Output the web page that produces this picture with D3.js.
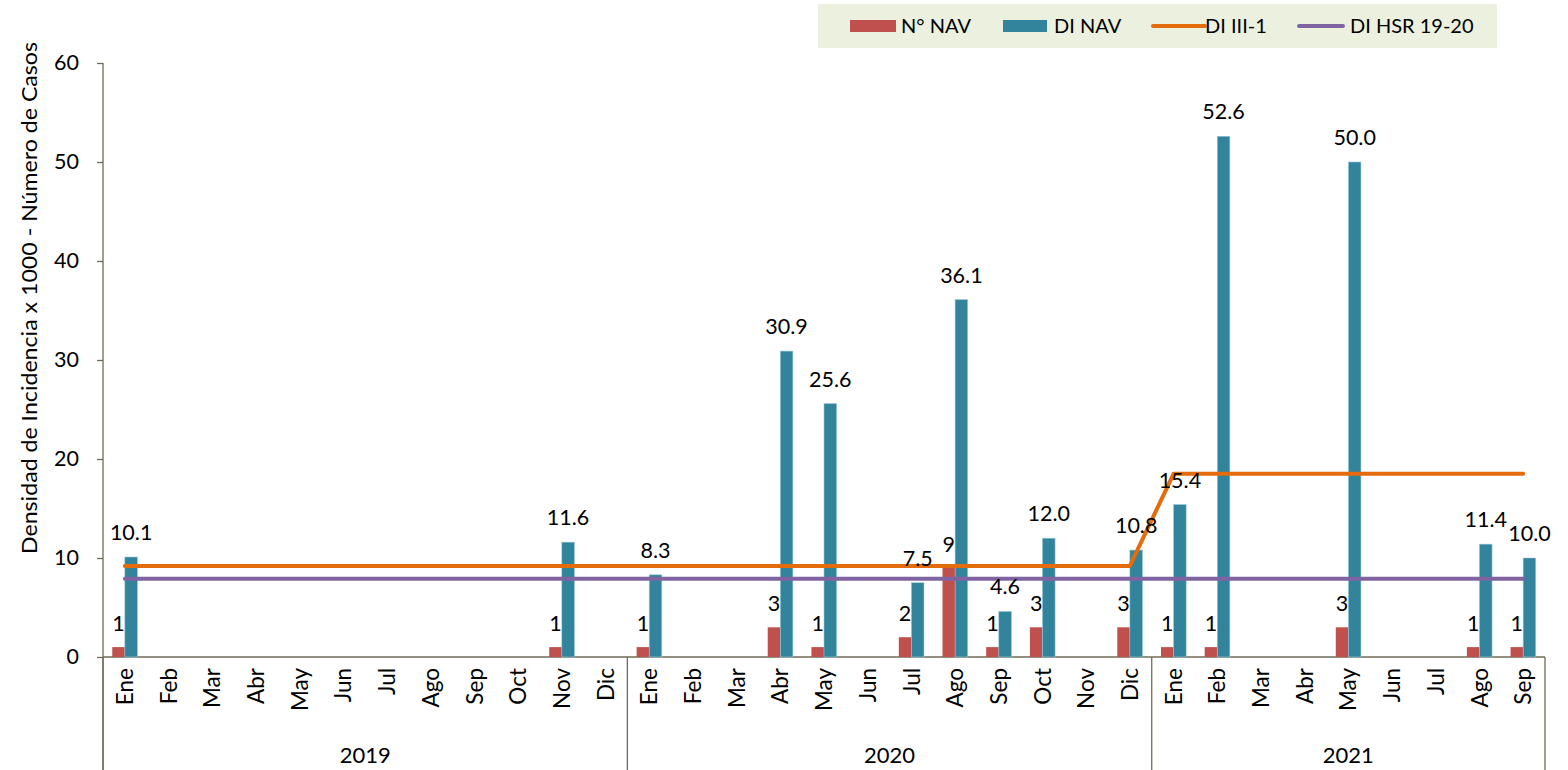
<!DOCTYPE html>
<html lang="es">
<head>
<meta charset="utf-8">
<title>Densidad de Incidencia NAV</title>
<script src="https://cdn.jsdelivr.net/npm/d3@7/dist/d3.min.js"></script>
<style>
  html, body { margin: 0; padding: 0; background: #ffffff; }
  svg { display: block; font-family: Lato, "Noto Sans", sans-serif; }
</style>
</head>
<body>
<svg id="chart" width="1568" height="770"></svg>
<script>
// Month and year labels for the category axis
const monthLabels = ["Ene","Feb","Mar","Abr","May","Jun","Jul","Ago","Sep","Oct","Nov","Dic",
                     "Ene","Feb","Mar","Abr","May","Jun","Jul","Ago","Sep","Oct","Nov","Dic",
                     "Ene","Feb","Mar","Abr","May","Jun","Jul","Ago","Sep"];
const yearLabels = ["2019", "2020", "2021"];
const monthsPerYear = [12, 12, 9];

// N° NAV: number of cases per month (null = no cases)
const casesNAV = [1, null, null, null, null, null, null, null, null, null, 1, null,
                  1, null, null, 3, 1, null, 2, 9, 1, 3, null, 3,
                  1, 1, null, null, 3, null, null, 1, 1];

// DI NAV: incidence density x 1000
const diNAV = [10.1, null, null, null, null, null, null, null, null, null, 11.6, null,
               8.3, null, null, 30.9, 25.6, null, 7.5, 36.1, 4.6, 12.0, null, 10.8,
               15.4, 52.6, null, null, 50.0, null, null, 11.4, 10.0];

// DI III-1 reference line
const diIII1 = [9.2, 9.2, 9.2, 9.2, 9.2, 9.2, 9.2, 9.2, 9.2, 9.2, 9.2, 9.2,
                9.2, 9.2, 9.2, 9.2, 9.2, 9.2, 9.2, 9.2, 9.2, 9.2, 9.2, 9.2,
                18.5, 18.5, 18.5, 18.5, 18.5, 18.5, 18.5, 18.5, 18.5];

// DI HSR 19-20 reference line
const diHSR = [7.9, 7.9, 7.9, 7.9, 7.9, 7.9, 7.9, 7.9, 7.9, 7.9, 7.9, 7.9,
               7.9, 7.9, 7.9, 7.9, 7.9, 7.9, 7.9, 7.9, 7.9, 7.9, 7.9, 7.9,
               7.9, 7.9, 7.9, 7.9, 7.9, 7.9, 7.9, 7.9, 7.9];

const yTicks = [0, 10, 20, 30, 40, 50, 60];

const colors = {
  cases: "#C0504D",
  di: "#31849B",
  iii: "#E46C0A",
  hsr: "#8064A2",
  axis: "#6f6b58",
  legendBg: "#EBF1DE"
};

const svg = d3.select("#chart");
const plot = { left: 103, right: 1545, top: 63, bottom: 657 };

const idx = d3.range(monthLabels.length);
const x = d3.scaleBand().domain(idx).range([plot.left, plot.right]).padding(0);
const y = d3.scaleLinear().domain([0, 60]).range([plot.bottom, plot.top]);
const barW = x.bandwidth() * 0.288;
const cx = i => x(i) + x.bandwidth() / 2;

// Y axis
const yAxis = svg.append("g")
  .attr("transform", `translate(${plot.left},0)`)
  .call(d3.axisLeft(y).tickValues(yTicks).tickSize(6).tickSizeOuter(0).tickPadding(18));
yAxis.select(".domain").remove();
yAxis.selectAll("line").attr("stroke", colors.axis).attr("stroke-width", 1.3);
yAxis.selectAll("text").attr("font-size", 21.5).attr("fill", "#000")
  .attr("font-family", "Lato, 'Noto Sans', sans-serif");

// Axis lines: vertical axis runs down through the category area
svg.append("line")
  .attr("x1", plot.left).attr("x2", plot.left)
  .attr("y1", plot.top).attr("y2", 770)
  .attr("stroke", colors.axis).attr("stroke-width", 1.3);
svg.append("line")
  .attr("x1", plot.left).attr("x2", plot.right)
  .attr("y1", plot.bottom).attr("y2", plot.bottom)
  .attr("stroke", colors.axis).attr("stroke-width", 1.3);

// Year group separators
let start = 0;
const groups = monthsPerYear.map((n, g) => {
  const s = start; start += n;
  return { year: yearLabels[g], first: s, last: s + n - 1 };
});
const sepX = groups.map(g => x(g.first)).concat([x(groups[groups.length - 1].last) + x.bandwidth()]);
svg.append("g").selectAll("line").data(sepX).join("line")
  .attr("x1", d => d).attr("x2", d => d)
  .attr("y1", plot.bottom).attr("y2", 770)
  .attr("stroke", colors.axis).attr("stroke-width", 1.3);

// Month labels
const xAxis = svg.append("g")
  .attr("transform", `translate(0,${plot.bottom})`)
  .call(d3.axisBottom(x).tickSize(0).tickFormat(i => monthLabels[i]));
xAxis.select(".domain").remove();
xAxis.selectAll("text")
  .attr("transform", "rotate(-90)")
  .attr("x", -11).attr("y", 0).attr("dy", "0.36em")
  .attr("text-anchor", "end")
  .attr("font-size", 22.5).attr("fill", "#000")
  .attr("font-family", "Lato, 'Noto Sans', sans-serif");

// Year labels
svg.append("g").selectAll("text").data(groups).join("text")
  .attr("x", g => (x(g.first) + x(g.last) + x.bandwidth()) / 2)
  .attr("y", 755).attr("dy", "0.35em")
  .attr("text-anchor", "middle").attr("font-size", 22)
  .text(g => g.year);

// Bars
const barData = idx.map(i => ({ i, cases: casesNAV[i], di: diNAV[i] }));
svg.append("g").selectAll("rect").data(barData.filter(d => d.cases != null)).join("rect")
  .attr("x", d => cx(d.i) - barW).attr("width", barW)
  .attr("y", d => y(d.cases)).attr("height", d => y(0) - y(d.cases))
  .attr("fill", colors.cases);
svg.append("g").selectAll("rect").data(barData.filter(d => d.di != null)).join("rect")
  .attr("x", d => cx(d.i)).attr("width", barW)
  .attr("y", d => y(d.di)).attr("height", d => y(0) - y(d.di))
  .attr("fill", colors.di)
  .attr("stroke", "#9cc9d6").attr("stroke-width", 0.6);

// Reference lines
const line = d3.line().x((d, i) => cx(i)).y(d => y(d));
svg.append("path").datum(diHSR).attr("d", line)
  .attr("fill", "none").attr("stroke", colors.hsr).attr("stroke-width", 4)
  .attr("stroke-linecap", "round").attr("stroke-linejoin", "round");
svg.append("path").datum(diIII1).attr("d", line)
  .attr("fill", "none").attr("stroke", colors.iii).attr("stroke-width", 4)
  .attr("stroke-linecap", "round").attr("stroke-linejoin", "round");

// Value labels
svg.append("g").selectAll("text").data(barData.filter(d => d.cases != null)).join("text")
  .attr("x", d => cx(d.i) - barW / 2).attr("y", d => y(d.cases) - 16)
  .attr("text-anchor", "middle").attr("font-size", 21.5)
  .text(d => d3.format("d")(d.cases));
svg.append("g").selectAll("text").data(barData.filter(d => d.di != null)).join("text")
  .attr("x", d => cx(d.i) + barW / 2).attr("y", d => y(d.di) - 17)
  .attr("text-anchor", "middle").attr("font-size", 21.5)
  .text(d => d3.format(".1f")(d.di));

// Y axis title
svg.append("text")
  .attr("transform", "translate(30,298) rotate(-90)")
  .attr("text-anchor", "middle").attr("dy", "0.35em")
  .attr("font-size", 21)
  .attr("textLength", 512).attr("lengthAdjust", "spacingAndGlyphs")
  .text("Densidad de Incidencia x 1000 - Número de Casos");

// Legend
const legend = svg.append("g");
legend.append("rect").attr("x", 818).attr("y", 4).attr("width", 679).attr("height", 44)
  .attr("fill", colors.legendBg);
const legendItems = [
  { name: "N° NAV", type: "rect", color: colors.cases, x0: 850, x1: 896, tx: 901 },
  { name: "DI NAV", type: "rect", color: colors.di, x0: 1003, x1: 1047, tx: 1054 },
  { name: "DI III-1", type: "line", color: colors.iii, x0: 1153, x1: 1205, tx: 1205 },
  { name: "DI HSR 19-20", type: "line", color: colors.hsr, x0: 1299, x1: 1343, tx: 1350 }
];
legendItems.forEach(it => {
  if (it.type === "rect") {
    legend.append("rect").attr("x", it.x0).attr("y", 20).attr("width", it.x1 - it.x0).attr("height", 12)
      .attr("fill", it.color);
  } else {
    legend.append("line").attr("x1", it.x0).attr("x2", it.x1).attr("y1", 26).attr("y2", 26)
      .attr("stroke", it.color).attr("stroke-width", 4).attr("stroke-linecap", "round");
  }
  legend.append("text").attr("x", it.tx).attr("y", 26).attr("dy", "0.35em")
    .attr("font-size", 20).text(it.name);
});
</script>
</body>
</html>
